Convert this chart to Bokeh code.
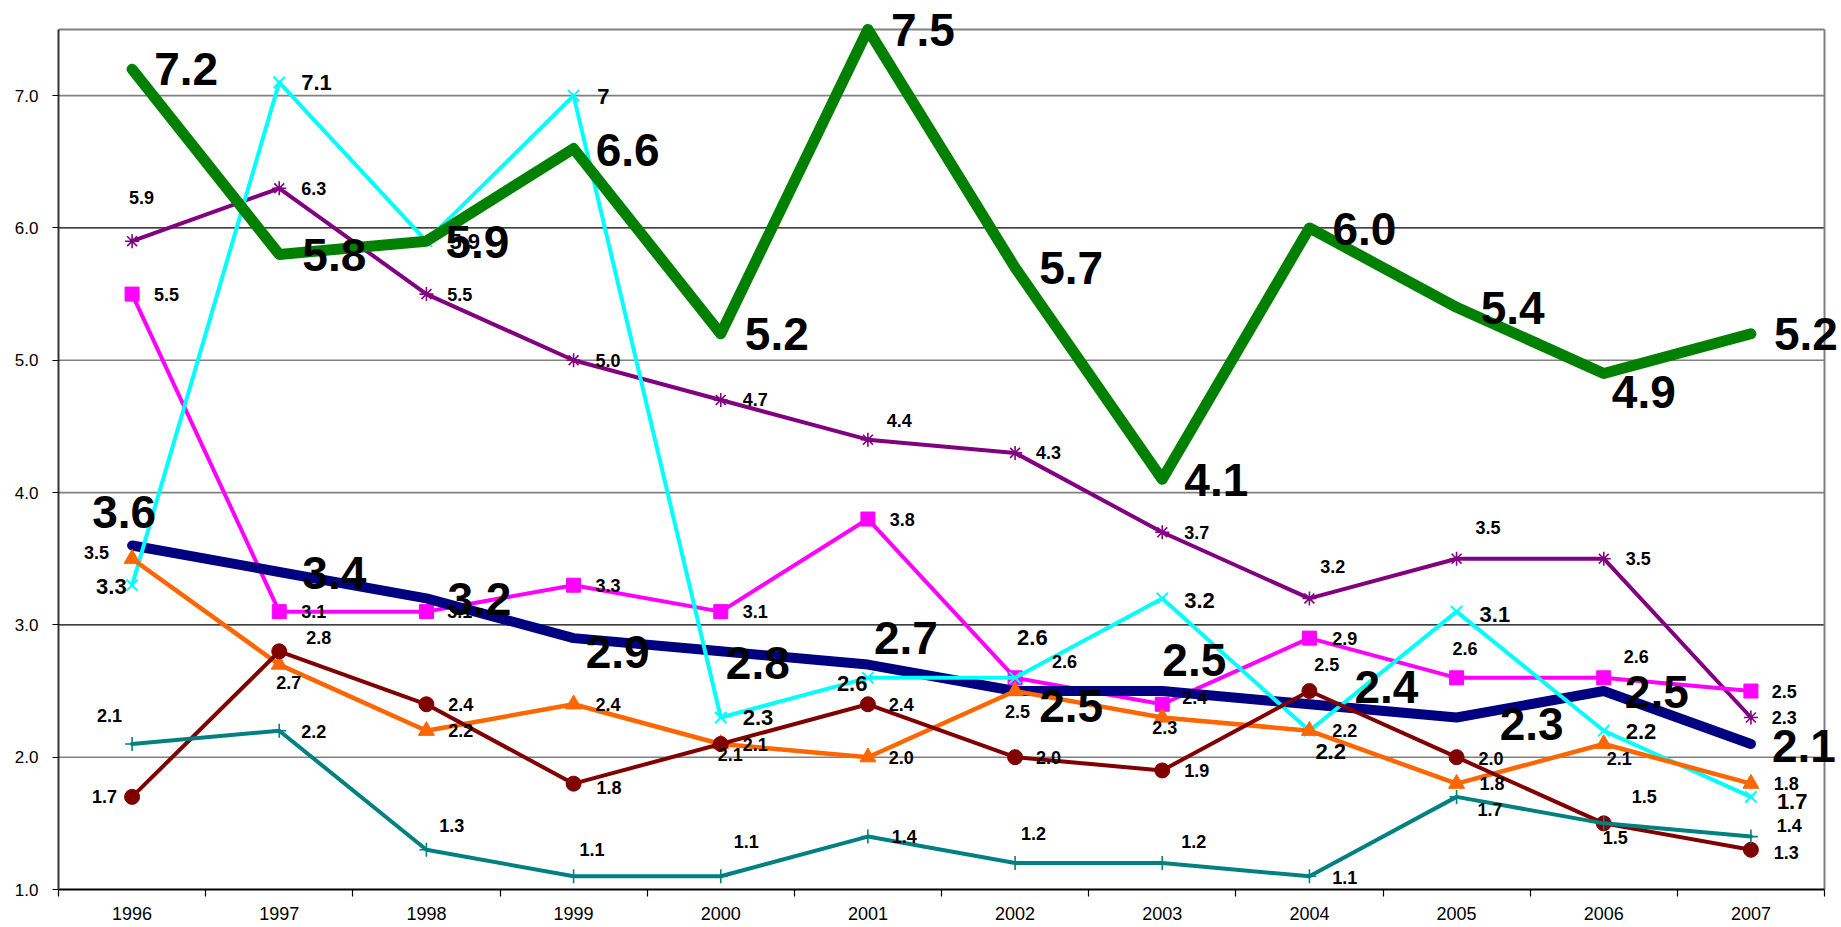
from bokeh.plotting import figure
from bokeh.models import ColumnDataSource, LabelSet, FixedTicker, Range1d
from bokeh.embed import file_html
from bokeh.resources import INLINE
from bokeh.core.properties import value

# ---------------- data ----------------
years = ["1996", "1997", "1998", "1999", "2000", "2001",
         "2002", "2003", "2004", "2005", "2006", "2007"]
green = [7.2, 5.8, 5.9, 6.6, 5.2, 7.5, 5.7, 4.1, 6.0, 5.4, 4.9, 5.2]
navy = [3.6, 3.4, 3.2, 2.9, 2.8, 2.7, 2.5, 2.5, 2.4, 2.3, 2.5, 2.1]
purple = [5.9, 6.3, 5.5, 5.0, 4.7, 4.4, 4.3, 3.7, 3.2, 3.5, 3.5, 2.3]
magenta = [5.5, 3.1, 3.1, 3.3, 3.1, 3.8, 2.6, 2.4, 2.9, 2.6, 2.6, 2.5]
cyan = [3.3, 7.1, 5.9, 7.0, 2.3, 2.6, 2.6, 3.2, 2.2, 3.1, 2.2, 1.7]
orange = [3.5, 2.7, 2.2, 2.4, 2.1, 2.0, 2.5, 2.3, 2.2, 1.8, 2.1, 1.8]
darkred = [1.7, 2.8, 2.4, 1.8, 2.1, 2.4, 2.0, 1.9, 2.5, 2.0, 1.5, 1.3]
teal = [2.1, 2.2, 1.3, 1.1, 1.1, 1.4, 1.2, 1.2, 1.1, 1.7, 1.5, 1.4]
y_ticks = [1.0, 2.0, 3.0, 4.0, 5.0, 6.0, 7.0]
y_min, y_max = 1.0, 7.5

# ---------------- label placement (pixel offsets of label's left edge / vertical centre) ----------------
green_off = [(25, -1), (26, 0), (22, 0), (25, 1), (27, 0), (26, 0), (27, 0), (25, 0), (26, 0), (27, 0), (11, 18), (26, 0)]
navy_off = [(-37, -34), (26, 0), (24, 0), (15, 13), (8, 11), (9, -27), (27, 14), (3, -32), (48, -18), (46, 6), (24, 0), (24, 1)]
purple_off = [(-2, -44), (23, 0), (22, 0), (23, 0), (23, 0), (20, -19), (22, 0), (23, 0), (12, -32), (20, -31), (23, 0), (22, 0)]
magenta_off = [(23, 0), (23, 0), (22, 0), (23, 0), (23, 0), (23, 0), (38, -16), (21, -7), (24, 0), (-3, -29), (21, -21), (22, 0)]
cyan_off = [(-35, 1), (23, 0), (24, 0), (24, 0), (23, 0), (-30, 5), (3, -41), (23, 2), (7, 20), (24, 2), (23, 0), (27, 4)]
orange_off = [(-47, -6), (-2, 18), (23, 0), (23, 0), (-2, 11), (22, 0), (-9, 20), (-9, 10), (24, 0), (24, 0), (4, 15), (24, 0)]
darkred_off = [(-39, 0), (28, -14), (23, 0), (24, 4), (23, 1), (22, 0), (22, 0), (23, 0), (6, -27), (23, 1), (0, 14), (24, 3)]
teal_off = [(-34, -28), (23, 1), (14, -24), (7, -27), (14, -35), (25, 0), (7, -30), (20, -22), (24, 1), (22, 13), (29, -27), (27, -11)]

FONT = "Liberation Sans"

# ---------------- layout ----------------
W, H = 1841, 927
LEFT, RIGHT, TOP, BOTTOM = 58, 1824, 29, 889          # visible plot box on the page
n = len(years)
px_x = (RIGHT - LEFT) / n
px_y = (BOTTOM - TOP) / (y_max - y_min)
# the frame is extended to the canvas top/right so that labels may overhang the box
x_end = n + (W - RIGHT) / px_x
y_end = y_max + TOP / px_y


def narrow_width(txt, size):
    # width the label occupies in the original (narrow font) rendering
    return size * (0.456 * sum(c.isdigit() for c in txt) + 0.228 * txt.count("."))


xs = [i + 0.5 for i in range(n)]

p = figure(width=W, height=H, output_backend="svg", toolbar_location=None,
           x_range=Range1d(0, x_end), y_range=Range1d(y_min, y_end),
           min_border_left=LEFT, min_border_right=0, min_border_top=0,
           min_border_bottom=H - BOTTOM)
p.background_fill_color = "white"
p.border_fill_color = "white"
p.outline_line_color = None
p.xgrid.grid_line_color = None
p.ygrid.grid_line_color = None

# gridlines (limited to the plot box)
grid_gray = [t for t in y_ticks if t not in (1.0, 3.0, 6.0)]
grid_black = [3.0, 6.0]
p.segment(x0=[0] * len(grid_gray), y0=grid_gray, x1=[n] * len(grid_gray), y1=grid_gray,
          line_color="#808080", line_width=1.6)
p.segment(x0=[0] * len(grid_black), y0=grid_black, x1=[n] * len(grid_black), y1=grid_black,
          line_color="black", line_width=1.2)
# top and right border of the plot box
p.segment(x0=[0, n], y0=[y_max, y_min], x1=[n, n], y1=[y_max, y_max],
          line_color="#808080", line_width=2)

# axes
p.xaxis.bounds = (0, n)
p.xaxis.ticker = FixedTicker(ticks=xs, minor_ticks=list(range(n + 1)))
p.xaxis.major_label_overrides = {x: y for x, y in zip(xs, years)}
p.xaxis.major_tick_out = 0
p.xaxis.major_tick_in = 0
p.xaxis.minor_tick_out = 7
p.xaxis.minor_tick_in = 0
p.xaxis.minor_tick_line_color = "black"
p.xaxis.minor_tick_line_width = 1.2
p.xaxis.major_label_standoff = 10
p.xaxis.major_label_text_font = FONT
p.xaxis.major_label_text_font_size = "18px"
p.xaxis.major_label_text_color = "black"
p.xaxis.axis_line_color = "black"
p.xaxis.axis_line_width = 2

p.yaxis.bounds = (y_min, y_max)
p.yaxis.ticker = FixedTicker(ticks=y_ticks)
p.yaxis.major_label_overrides = {t: f"{t:.1f}" for t in y_ticks}
p.yaxis.minor_tick_line_color = None
p.yaxis.major_tick_out = 6
p.yaxis.major_tick_in = 0
p.yaxis.major_tick_line_color = "black"
p.yaxis.major_tick_line_width = 1.2
p.yaxis.major_label_standoff = 14
p.yaxis.major_label_text_font = FONT
p.yaxis.major_label_text_font_size = "17px"
p.yaxis.major_label_text_color = "black"
p.yaxis.axis_line_color = "#333333"
p.yaxis.axis_line_width = 2

# series (draw order)
series = [
    # values, color, width, marker, msize, mline, ref label size, label size, fmt, offsets
    (purple, "#800080", 4, "asterisk", 14, 1.6, 20, 18, "{:.1f}", purple_off),
    (magenta, "#FF00FF", 4, "square", 14, 1, 20, 18, "{:.1f}", magenta_off),
    (navy, "#000080", 10, None, 0, 0, 51, 46, "{:.1f}", navy_off),
    (cyan, "#00FFFF", 4, "x", 16, 2, 25, 22, "{:g}", cyan_off),
    (orange, "#FF6600", 4.5, "triangle", 16, 1, 20, 18, "{:.1f}", orange_off),
    (darkred, "#800000", 4, "circle", 15, 1, 20, 18, "{:.1f}", darkred_off),
    (teal, "#008080", 4, "cross", 14, 1.6, 20, 18, "{:.1f}", teal_off),
    (green, "#008000", 11, None, 0, 0, 51, 46, "{:.1f}", green_off),
]

label_sets = []
for vals, color, lw, marker, msize, mline, rsize, lsize, fmt, offs in series:
    txt = [fmt.format(v) for v in vals]
    src = ColumnDataSource(dict(
        x=xs, y=vals, txt=txt,
        dx=[o[0] + narrow_width(t, rsize) / 2 for o, t in zip(offs, txt)],
        dy=[-(o[1] + 0.36 * lsize) for o in offs],
    ))
    p.line("x", "y", source=src, line_color=color, line_width=lw,
           line_join="round", line_cap="round")
    if marker is not None:
        if marker in ("asterisk", "x", "cross"):
            p.scatter("x", "y", source=src, marker=marker, size=msize,
                      line_color=color, line_width=mline, fill_color=None)
        else:
            p.scatter("x", "y", source=src, marker=marker, size=msize,
                      line_color=color, fill_color=color, line_width=mline)
    label_sets.append(LabelSet(x="x", y="y", text="txt", source=src,
                               x_offset="dx", y_offset="dy",
                               text_font=value(FONT), text_font_style="bold",
                               text_font_size=f"{lsize}px", text_color="black",
                               text_align="center", text_baseline="alphabetic"))

for ls in label_sets:
    p.add_layout(ls)

open("out.html", "w").write(file_html(p, INLINE))
